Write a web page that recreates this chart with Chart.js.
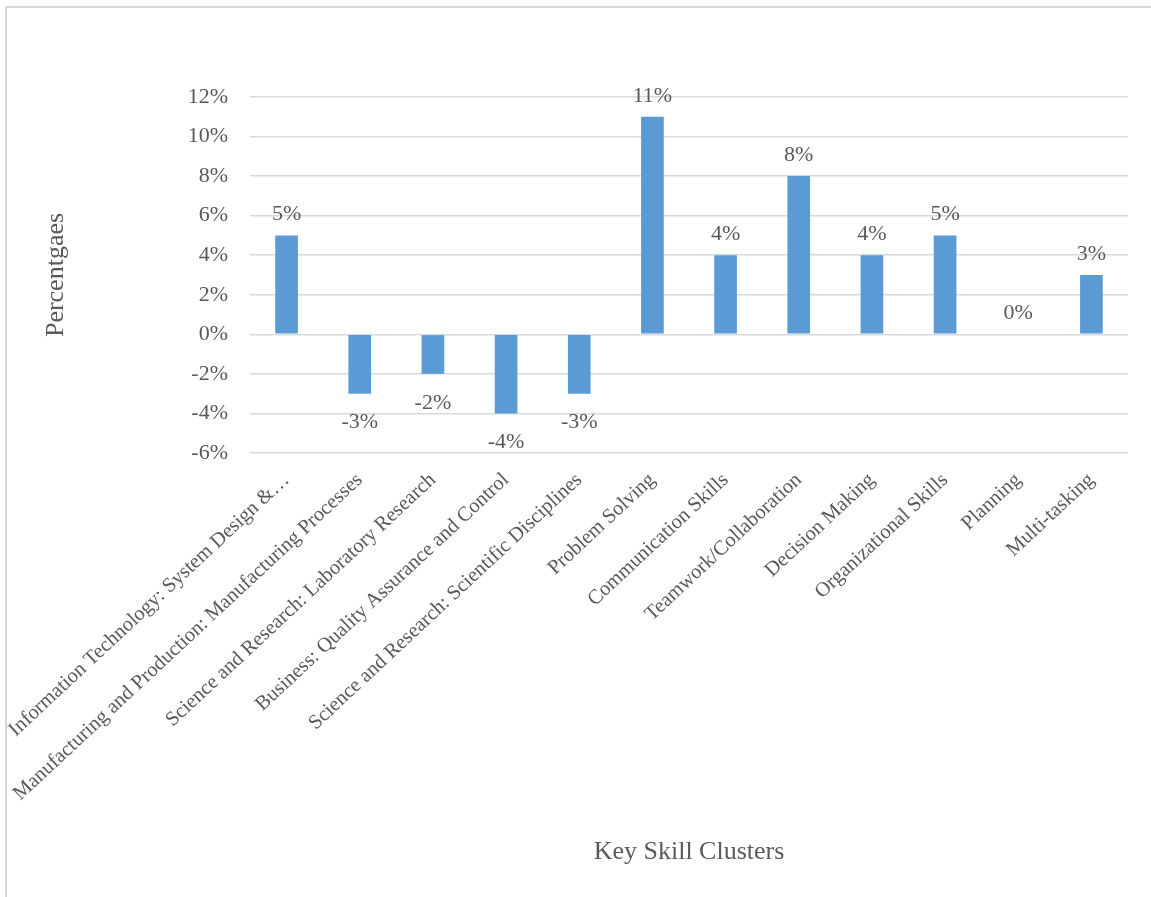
<!DOCTYPE html>
<html>
<head>
<meta charset="utf-8">
<script src="https://cdn.jsdelivr.net/npm/chart.js@4/dist/chart.umd.min.js"></script>
<style>
  html, body { margin: 0; padding: 0; background: #fff; }
  #grafico { display: block; }
</style>
</head>
<body>
<canvas id="grafico" width="1151" height="897"></canvas>
<script>
// categorias del eje X
const clusters = [
  "Information Technology: System Design &\u2026",
  "Manufacturing and Production: Manufacturing Processes",
  "Science and Research: Laboratory Research",
  "Business: Quality Assurance and Control",
  "Science and Research: Scientific Disciplines",
  "Problem Solving",
  "Communication Skills",
  "Teamwork/Collaboration",
  "Decision Making",
  "Organizational Skills",
  "Planning",
  "Multi-tasking"
];

// valores en porcentaje
const porcentajes = [5, -3, -2, -4, -3, 11, 4, 8, 4, 5, 0, 3];

// eje Y
const yMin = -6, yMax = 12, yPaso = 2;

const tituloY = "Percentgaes";
const tituloX = "Key Skill Clusters";

var fuente = "'Liberation Serif', 'Times New Roman', serif";
var gris = "#595959";

// etiquetas encima/debajo de cada barra
const etiquetasBarras = {
  id: 'etiquetasBarras',
  afterDatasetsDraw(chart) {
    var ctx = chart.ctx;
    var meta = chart.getDatasetMeta(0);
    ctx.save();
    ctx.font = "22px " + fuente;
    ctx.fillStyle = gris;
    ctx.textAlign = "center";
    meta.data.forEach((bar, i) => {
      var v = porcentajes[i];
      if (v < 0) {
        ctx.textBaseline = "top";
        ctx.fillText(v + "%", bar.x, bar.y + 18);
      } else {
        ctx.textBaseline = "bottom";
        ctx.fillText(v + "%", bar.x, bar.y - 10);
      }
    });
    ctx.restore();
  }
};

// marco gris del grafico
const marco = {
  id: 'marco',
  beforeDraw(chart) {
    var ctx = chart.ctx;
    ctx.save();
    ctx.strokeStyle = "#d9d9d9";
    ctx.lineWidth = 2;
    ctx.beginPath();
    ctx.moveTo(6, chart.height);
    ctx.lineTo(6, 7);
    ctx.lineTo(chart.width, 7);
    ctx.stroke();
    ctx.restore();
  }
};

var ctx = document.getElementById('grafico').getContext('2d');
var chart = new Chart(ctx, {
  type: 'bar',
  data: {
    labels: clusters,
    datasets: [{
      data: porcentajes,
      backgroundColor: "#5B9BD5",
      borderWidth: 0,
      barPercentage: 0.62,
      categoryPercentage: 0.5
    }]
  },
  options: {
    responsive: false,
    animation: false,
    layout: { padding: { left: 41, right: 23, top: 97, bottom: 29 } },
    plugins: {
      legend: { display: false },
      tooltip: { enabled: false }
    },
    scales: {
      y: {
        min: yMin,
        max: yMax,
        afterFit: function (scale) { scale.width = 250 - 41; },
        border: { display: false },
        grid: { color: "#d9d9d9", lineWidth: 1.5, drawTicks: false },
        ticks: {
          stepSize: yPaso,
          padding: 22,
          color: gris,
          font: { family: fuente, size: 22 },
          callback: function (v) { return v + "%"; }
        },
        title: {
          display: true,
          text: tituloY,
          color: gris,
          padding: 0,
          font: { family: fuente, size: 26 }
        }
      },
      x: {
        afterFit: function (scale) {
          scale.height = 897 - 453 - 29;
          scale.paddingLeft = 0;
          scale.paddingRight = 0;
        },
        border: { display: false },
        grid: { display: false },
        ticks: {
          autoSkip: false,
          maxRotation: 43,
          minRotation: 43,
          padding: 7,
          color: gris,
          font: { family: fuente, size: 20.5 }
        },
        title: {
          display: true,
          text: tituloX,
          color: gris,
          padding: 0,
          font: { family: fuente, size: 26 }
        }
      }
    }
  },
  plugins: [marco, etiquetasBarras]
});
</script>
</body>
</html>
